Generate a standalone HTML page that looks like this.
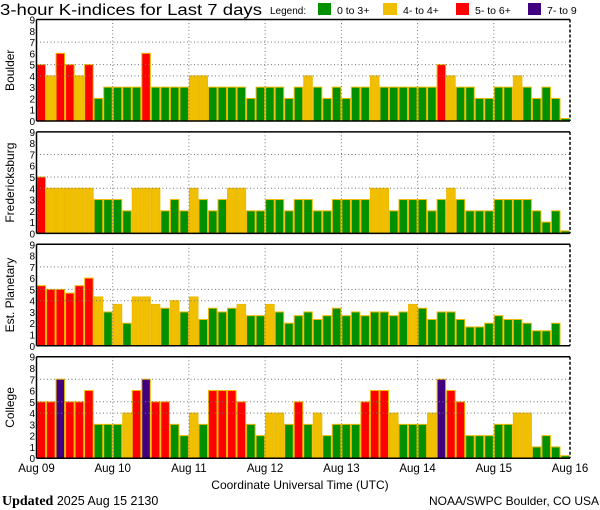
<!DOCTYPE html>
<html><head><meta charset="utf-8"><style>
body{margin:0;background:#fff;width:600px;height:510px;overflow:hidden}
svg{display:block}
text{font-family:"Liberation Sans",sans-serif;fill:#000}
</style></head><body>
<svg id="s" width="600" height="510" xmlns="http://www.w3.org/2000/svg">
<text x="0" y="15" font-size="15.5" textLength="262" lengthAdjust="spacingAndGlyphs">3-hour K-indices for Last 7 days</text>
<text x="270" y="14" font-size="10">Legend:</text>
<rect x="318" y="3" width="13" height="12" fill="#009000"/><text x="337" y="14" font-size="10.5">0 to 3+</text>
<rect x="383" y="3" width="14" height="12" fill="#f0c000"/><text x="403" y="14" font-size="10.5">4- to 4+</text>
<rect x="456" y="3" width="13" height="12" fill="#ff0000"/><text x="475" y="14" font-size="10.5">5- to 6+</text>
<rect x="528" y="3" width="13" height="12" fill="#400080"/><text x="547" y="14" font-size="10.5">7- to 9</text>
<g id="p"></g>
<text x="300" y="489" font-size="12" text-anchor="middle">Coordinate Universal Time (UTC)</text>
<text x="2" y="505" font-size="12.5"><tspan font-family="Liberation Serif" font-weight="bold" font-size="14">Updated</tspan> 2025 Aug 15 2130</text>
<text x="599" y="505" font-size="12" text-anchor="end">NOAA/SWPC Boulder, CO USA</text>
</svg>
<script>
var D=[
["Boulder",[5,4,6,5,4,5,2,3, 3,3,3,6,3,3,3,3, 4,4,3,3,3,3,2,3, 3,3,2,3,4,3,2,3, 2,3,3,4,3,3,3,3, 3,3,5,4,3,3,2,2, 3,3,4,3,2,3,2,0.1]],
["Fredericksburg",[5,4,4,4,4,4,3,3, 3,2,4,4,4,2,3,2, 4,3,2,3,4,4,2,2, 3,3,2,3,3,2,2,3, 3,3,3,4,4,2,3,3, 3,2,3,4,3,2,2,2, 3,3,3,3,2,1,2,0.1]],
["Est. Planetary",[5.33,5,5,4.67,5.33,6,4.33,3, 3.67,2,4.33,4.33,3.67,3.33,4,3, 4.33,2.33,3.33,3,3.33,3.67,2.67,2.67, 3.67,3,2,2.67,3,2.33,2.67,3.33, 2.67,3,2.67,3,3,2.67,3,3.67, 3.33,2.33,3,3,2.33,1.67,1.67,2, 2.67,2.33,2.33,2,1.33,1.33,2,0]],
["College",[5,5,7,5,5,6,3,3, 3,4,6,7,5,5,3,2, 4,3,6,6,6,5,3,2, 4,4,3,5,3,4,2,3, 3,3,5,6,6,4,3,3, 3,4,7,6,5,2,2,2, 3,3,4,4,1,2,1,0.1]]];
var tops=[19.5,131.9,244.3,356.7],H=101.5,X0=36.5,X1=570,DW=(X1-X0)/7,BW=DW/8,u=H/9;
var o='';
function col(v){return v<3.5?'#009000':v<4.5?'#f0c000':v<6.5?'#ff0000':'#400080';}
D.forEach(function(d,i){
 var t=tops[i],b=t+H;
 d[1].forEach(function(v,j){ if(v<=0)return; var h=Math.max(v*u,2.5);
  o+='<rect x="'+(X0+j*BW+0.5).toFixed(2)+'" y="'+(b-h).toFixed(2)+'" width="'+(BW-1).toFixed(2)+'" height="'+h.toFixed(2)+'" fill="'+col(v)+'" stroke="#f0b800" stroke-width="1"/>';});
 [4,5,7].forEach(function(k){var y=(b-k*u).toFixed(1);o+='<line x1="'+X0+'" x2="'+X1+'" y1="'+y+'" y2="'+y+'" stroke="#777" stroke-dasharray="1,2.5"/>';});
 for(var k=1;k<7;k++){var x=(X0+k*DW).toFixed(1);o+='<line x1="'+x+'" x2="'+x+'" y1="'+t+'" y2="'+b+'" stroke="#777" stroke-dasharray="1,2.5"/>';}
 o+='<line x1="'+X0+'" x2="'+X1+'" y1="'+t+'" y2="'+t+'" stroke="#000" stroke-width="1.5"/>';
 o+='<line x1="'+X0+'" x2="'+X1+'" y1="'+b+'" y2="'+b+'" stroke="#000" stroke-width="1.5"/>';
 o+='<line x1="'+X0+'" x2="'+X0+'" y1="'+t+'" y2="'+b+'" stroke="#000" stroke-width="1.5"/>';
 o+='<line x1="'+X1+'" x2="'+X1+'" y1="'+t+'" y2="'+b+'" stroke="#000" stroke-width="1.5" stroke-dasharray="3,2"/>';
 for(var k=0;k<=9;k++){o+='<text x="35" y="'+(b-k*u+4).toFixed(1)+'" font-size="10" text-anchor="end">'+k+'</text>';}
 var cy=t+H/2;
 o+='<text transform="translate(14,'+cy+') rotate(-90)" font-size="12" text-anchor="middle">'+d[0]+'</text>';
});
var L=['Aug 09','Aug 10','Aug 11','Aug 12','Aug 13','Aug 14','Aug 15','Aug 16'];
L.forEach(function(s,k){o+='<text x="'+(X0+k*DW).toFixed(1)+'" y="472" font-size="11.5" text-anchor="middle">'+s+'</text>';});
document.getElementById('p').innerHTML=o;
</script>
</body></html>
